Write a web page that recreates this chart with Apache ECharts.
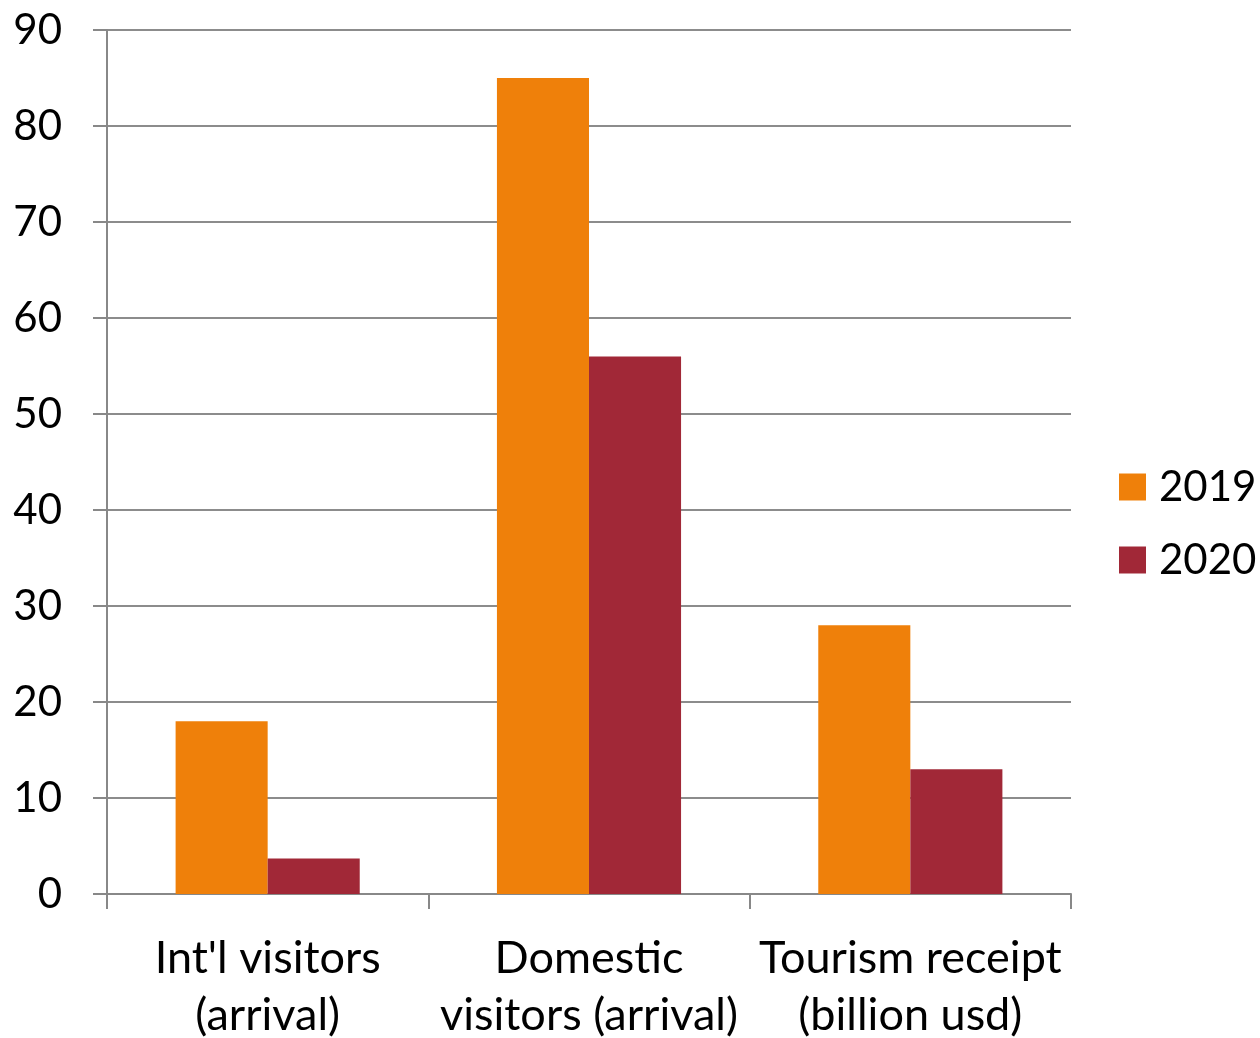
<!DOCTYPE html>
<html><head><meta charset="utf-8">
<script src="https://cdn.jsdelivr.net/npm/echarts@6/dist/echarts.min.js"></script>
<style>html,body{margin:0;padding:0;background:#fff}#c{width:1260px;height:1038px}</style>
</head><body><div id="c"></div>
<script>
const categories = ["Int'l visitors\n(arrival)", "Domestic\nvisitors (arrival)", "Tourism receipt\n(billion usd)"];
const seriesNames = ["2019", "2020"];
const values2019 = [18, 85, 28];
const values2020 = [3.7, 56, 13];
const yTicks = {min: 0, max: 90, interval: 10};

const font = "Lato, 'Open Sans', sans-serif";
const chart = echarts.init(document.getElementById('c'));
chart.setOption({
  backgroundColor: '#ffffff',
  animation: false,
  grid: {left: 107, right: 189, top: 30, bottom: 144, containLabel: false, outerBoundsMode: 'none'},
  legend: {
    orient: 'vertical', left: 1119, top: 466, padding: 0, itemWidth: 27, itemHeight: 27, itemGap: 31,
    icon: 'rect',
    textStyle: {fontFamily: font, fontSize: 42, lineHeight: 42, color: '#000', padding: [0,0,0,8]},
    data: seriesNames
  },
  xAxis: {
    type: 'category', data: categories,
    axisLine: {lineStyle: {color: '#888', width: 2}},
    axisTick: {show: true, length: 15, lineStyle: {color: '#888', width: 2}},
    axisLabel: {fontFamily: font, fontSize: 45, color: '#000', lineHeight: 57, margin: 36, interval: 0}
  },
  yAxis: {
    type: 'value', min: yTicks.min, max: yTicks.max, interval: yTicks.interval,
    axisLine: {show: true, lineStyle: {color: '#888', width: 2}},
    axisTick: {show: true, length: 14, inside: false, lineStyle: {color: '#888', width: 2}},
    splitLine: {show: true, lineStyle: {color: '#8c8c8c', width: 2}},
    axisLabel: {fontFamily: font, fontSize: 42, color: '#000', margin: 45}
  },
  series: [
    {name: seriesNames[0], type: 'bar', data: values2019, itemStyle: {color: '#EF800A'}, barGap: '0%', barCategoryGap: '42.7%'},
    {name: seriesNames[1], type: 'bar', data: values2020, itemStyle: {color: '#A12837'}, barGap: '0%', barCategoryGap: '42.7%'}
  ]
});
</script></body></html>
